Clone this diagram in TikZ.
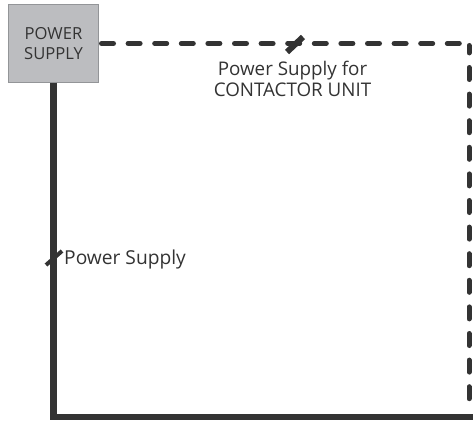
\documentclass[tikz,border=0pt]{standalone}
\usepackage{fontspec}
\setmainfont{Open Sans}
\definecolor{ink}{HTML}{333333}
\definecolor{boxfill}{HTML}{BCBDC0}
\definecolor{boxline}{HTML}{939598}
\tikzset{
  psbox/.style={draw=boxline,fill=boxfill,line width=1pt,minimum width=90pt,minimum height=77pt,inner sep=0pt,align=center,text=ink,font=\fontsize{16.6}{19.5}\selectfont},
  lbl/.style={inner sep=0pt,align=center,text=ink,font=\fontsize{18.8}{21}\selectfont},
  lblb/.style={inner sep=0pt,align=center,text=ink,font=\fontsize{19.2}{21}\selectfont},
  solidwire/.style={draw=ink,line width=6.4pt},
  dashwire/.style={draw=ink,line width=5pt,line cap=round,dash pattern=on 12pt off 14.6pt},
  tickmark/.style={draw=ink},
}
\begin{document}
\begin{tikzpicture}[x=1pt,y=-1pt]
\useasboundingbox (0,0) rectangle (473,420);
\node[psbox] (ps) at (53.5,43.5) {POWER\\SUPPLY};
\coordinate (corner) at (53.3,417);
\coordinate (rightend) at (473,417);
\coordinate (dashend) at (461,43.5);
\coordinate (vtop) at (469,45.5);
\coordinate (vbot) at (469,400);
\draw[solidwire] (ps.south -| corner) -- (corner) -- (rightend);
\draw[dashwire] ([xshift=2.5pt]ps.east) -- (dashend);
\draw[dashwire,dash phase=4.6pt] (vtop) -- (vbot);
\coordinate (t1a) at (287,52);
\coordinate (t1b) at (303,37);
\coordinate (t2a) at (46,265);
\coordinate (t2b) at (62,251);
\draw[tickmark,line width=6pt] (t1a) -- (t1b);
\draw[tickmark,line width=4pt] (t2a) -- (t2b);
\node[lbl] (lab1) at (292.5,78.5) {Power Supply for\\CONTACTOR UNIT};
\node[lblb,anchor=west] (lab2) at (64,259.5) {Power Supply};
\end{tikzpicture}
\end{document}
